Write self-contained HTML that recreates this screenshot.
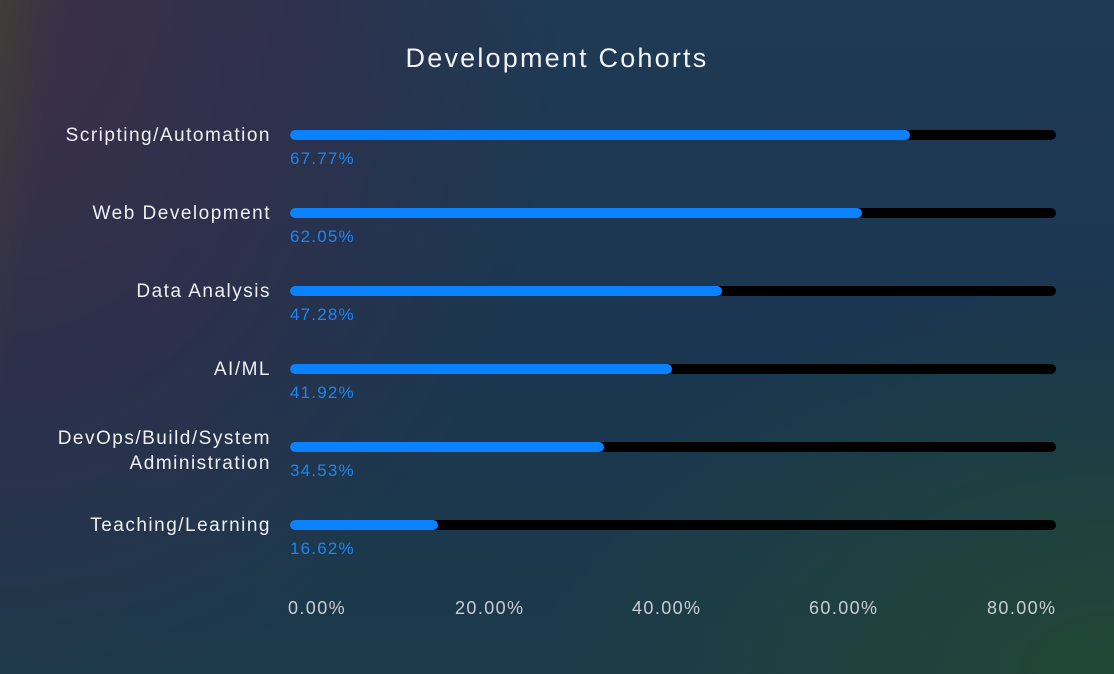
<!DOCTYPE html>
<html>
<head>
<meta charset="utf-8">
<style>
  html, body { margin:0; padding:0; }
  body {
    width:1114px; height:674px; overflow:hidden; position:relative;
    font-family:"Liberation Sans", Arial, sans-serif;
    background:
      radial-gradient(ellipse 760px 520px at 100% 100%, rgba(33,72,52,0.95), rgba(33,72,52,0) 75%),
      linear-gradient(100deg, rgba(62,62,54,0.95) 0px, rgba(62,60,56,0) 70px),
      radial-gradient(ellipse 560px 720px at 0% 0%, rgba(62,46,72,1), rgba(55,44,72,0.6) 55%, rgba(50,44,72,0) 100%),
      linear-gradient(180deg, #1f3a55 0%, #1b3650 50%, #1c3a4a 100%);
  }
  .t { position:absolute; white-space:nowrap; }
  .title { left:0; width:1114px; top:45px; text-align:center; font-size:27px; line-height:27px; color:#f2f3f5; letter-spacing:2.2px; }
  .lab { right:843px; text-align:right; font-size:19px; line-height:19px; color:#eef0f2; letter-spacing:1.5px; }
  .val { left:290px; font-size:17px; line-height:17px; color:#1a86f5; letter-spacing:1.2px; }
  .tick { top:599px; font-size:18px; line-height:18px; color:#c9cdd2; letter-spacing:1.4px; }
  .track { position:absolute; left:290px; width:766px; height:10px; background:#000; border-radius:5px; }
  .bar { position:absolute; left:290px; height:10px; background:#0a82ff; border-radius:5px; }
</style>
</head>
<body>
  <div class="t title">Development Cohorts</div>

  <!-- Row 1 -->
  <div class="t lab" style="top:126px;">Scripting/Automation</div>
  <div class="track" style="top:130px;"></div>
  <div class="bar" style="top:130px;width:620px;"></div>
  <div class="t val" style="top:150px;">67.77%</div>

  <!-- Row 2 -->
  <div class="t lab" style="top:204px;">Web Development</div>
  <div class="track" style="top:208px;"></div>
  <div class="bar" style="top:208px;width:572px;"></div>
  <div class="t val" style="top:228px;">62.05%</div>

  <!-- Row 3 -->
  <div class="t lab" style="top:282px;">Data Analysis</div>
  <div class="track" style="top:286px;"></div>
  <div class="bar" style="top:286px;width:432px;"></div>
  <div class="t val" style="top:306px;">47.28%</div>

  <!-- Row 4 -->
  <div class="t lab" style="top:360px;">AI/ML</div>
  <div class="track" style="top:364px;"></div>
  <div class="bar" style="top:364px;width:382px;"></div>
  <div class="t val" style="top:384px;">41.92%</div>

  <!-- Row 5 -->
  <div class="t lab" style="top:426px;line-height:25px;">DevOps/Build/System<br>Administration</div>
  <div class="track" style="top:442px;"></div>
  <div class="bar" style="top:442px;width:314px;"></div>
  <div class="t val" style="top:462px;">34.53%</div>

  <!-- Row 6 -->
  <div class="t lab" style="top:516px;">Teaching/Learning</div>
  <div class="track" style="top:520px;"></div>
  <div class="bar" style="top:520px;width:148px;"></div>
  <div class="t val" style="top:540px;">16.62%</div>

  <!-- Axis ticks -->
  <div class="t tick" style="left:288px;">0.00%</div>
  <div class="t tick" style="left:455px;">20.00%</div>
  <div class="t tick" style="left:632px;">40.00%</div>
  <div class="t tick" style="left:809px;">60.00%</div>
  <div class="t tick" style="left:987px;">80.00%</div>
</body>
</html>
